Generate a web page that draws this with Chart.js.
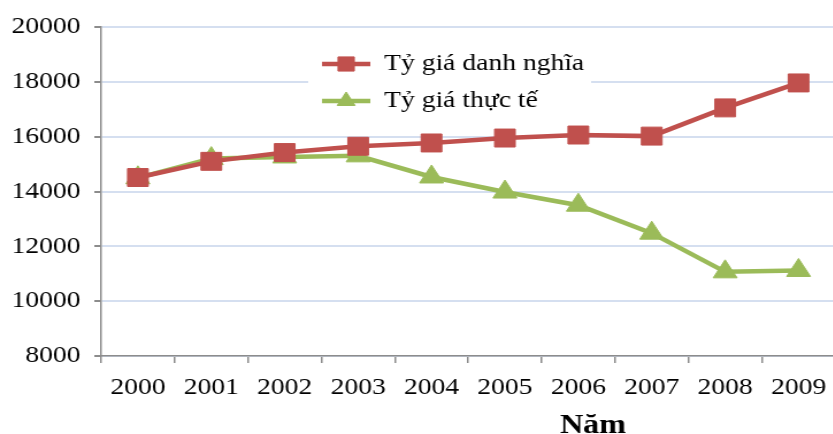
<!DOCTYPE html>
<html>
<head>
<meta charset="utf-8">
<script src="https://cdn.jsdelivr.net/npm/chart.js@4.4.1/dist/chart.umd.min.js"></script>
<style>
  html, body { margin: 0; padding: 0; background: #fff; overflow: hidden; }
  #wrap { width: 740px; height: 434px; transform: scaleX(1.15); transform-origin: 0 0; }
</style>
</head>
<body>
<div id="wrap"><canvas id="chart" width="740" height="434"></canvas></div>
<script>
const years = ['2000', '2001', '2002', '2003', '2004', '2005', '2006', '2007', '2008', '2009'];
const nominalRate = [14510, 15100, 15420, 15650, 15770, 15950, 16060, 16020, 17050, 17960];
const realRate = [14500, 15200, 15260, 15300, 14530, 13980, 13500, 12480, 11070, 11120];
const seriesNames = ['Tỷ giá danh nghĩa', 'Tỷ giá thực tế'];
const yMin = 8000, yMax = 20000, yStep = 2000;
const axisTitle = 'Năm';

const RED = '#C0504D';
const GREEN = '#9BBB59';
const FONT = 'Liberation Serif';

// little line + marker picture for the legend
function legendIcon(color, style, radius) {
  const c = document.createElement('canvas');
  c.width = 42; c.height = 26;
  const g = c.getContext('2d');
  g.strokeStyle = color;
  g.fillStyle = color;
  g.lineWidth = 4.5;
  g.beginPath(); g.moveTo(0, 13); g.lineTo(42, 13); g.stroke();
  g.lineWidth = 1;
  Chart.helpers.drawPoint(g, {pointStyle: style, radius: radius, borderWidth: 1, rotation: 0}, 21, 13);
  return c;
}
const icons = [legendIcon(RED, 'rect', 10), legendIcon(GREEN, 'triangle', 9)];

// move legend into the plot and give it a white box
const legendBox = {
  id: 'legendBox',
  afterLayout(chart) {
    chart.legend.left = 267;
    chart.legend.top = 39;
  },
  beforeDatasetsDraw(chart) {
    const ctx = chart.ctx;
    ctx.save();
    ctx.fillStyle = '#fff';
    ctx.fillRect(268, 36, 246, 88);
    ctx.restore();
    chart.legend.draw();
  }
};

const yearTitle = {
  id: 'yearTitle',
  afterDraw(chart) {
    const x = chart.scales.x;
    const ctx = chart.ctx;
    ctx.save();
    ctx.font = 'bold 28px "' + FONT + '"';
    ctx.fillStyle = '#000';
    ctx.textAlign = 'center';
    ctx.textBaseline = 'alphabetic';
    ctx.fillText(axisTitle, x.left + x.width * 0.67, 433);
    ctx.restore();
  }
};

new Chart(document.getElementById('chart'), {
  type: 'line',
  data: {
    labels: years,
    datasets: [{
      label: seriesNames[0],
      data: nominalRate,
      borderColor: RED,
      backgroundColor: RED,
      borderWidth: 4.5,
      pointStyle: 'rect',
      pointRadius: 12.7,
      pointBorderWidth: 1,
      tension: 0
    }, {
      label: seriesNames[1],
      data: realRate,
      borderColor: GREEN,
      backgroundColor: GREEN,
      borderWidth: 4.5,
      pointStyle: 'triangle',
      pointRadius: 12,
      pointBorderWidth: 1,
      tension: 0
    }]
  },
  options: {
    responsive: false,
    animation: false,
    devicePixelRatio: 1,
    layout: { padding: { top: 27, right: 6, bottom: 0, left: 0 } },
    plugins: {
      tooltip: { enabled: false },
      legend: {
        position: 'chartArea',
        align: 'start',
        labels: {
          usePointStyle: true,
          pointStyleWidth: 42,
          padding: 13,
          color: '#000',
          font: { family: FONT, size: 24 },
          generateLabels(chart) {
            const items = Chart.defaults.plugins.legend.labels.generateLabels(chart);
            items.forEach((it, i) => { it.pointStyle = icons[i]; });
            return items;
          }
        }
      }
    },
    scales: {
      x: {
        offset: true,
        grid: { drawOnChartArea: false, drawTicks: true, tickLength: 7, tickColor: '#8c8c8c', lineWidth: 1.5, offset: true },
        border: { color: '#8c8c8c', width: 1.5 },
        ticks: { color: '#000', font: { family: FONT, size: 24 }, padding: 10, maxRotation: 0, autoSkip: false },
        afterFit(s) { s.height = 78; }
      },
      y: {
        min: yMin,
        max: yMax,
        grid: { color: '#d5dff0', lineWidth: 2, tickLength: 6, tickColor: '#8c8c8c' },
        border: { color: '#8c8c8c', width: 1.5 },
        ticks: { stepSize: yStep, color: '#000', font: { family: FONT, size: 24 }, padding: 12, callback: v => String(v) },
        afterFit(s) { s.width = 88; }
      }
    }
  },
  plugins: [legendBox, yearTitle]
});
</script>
</body>
</html>
